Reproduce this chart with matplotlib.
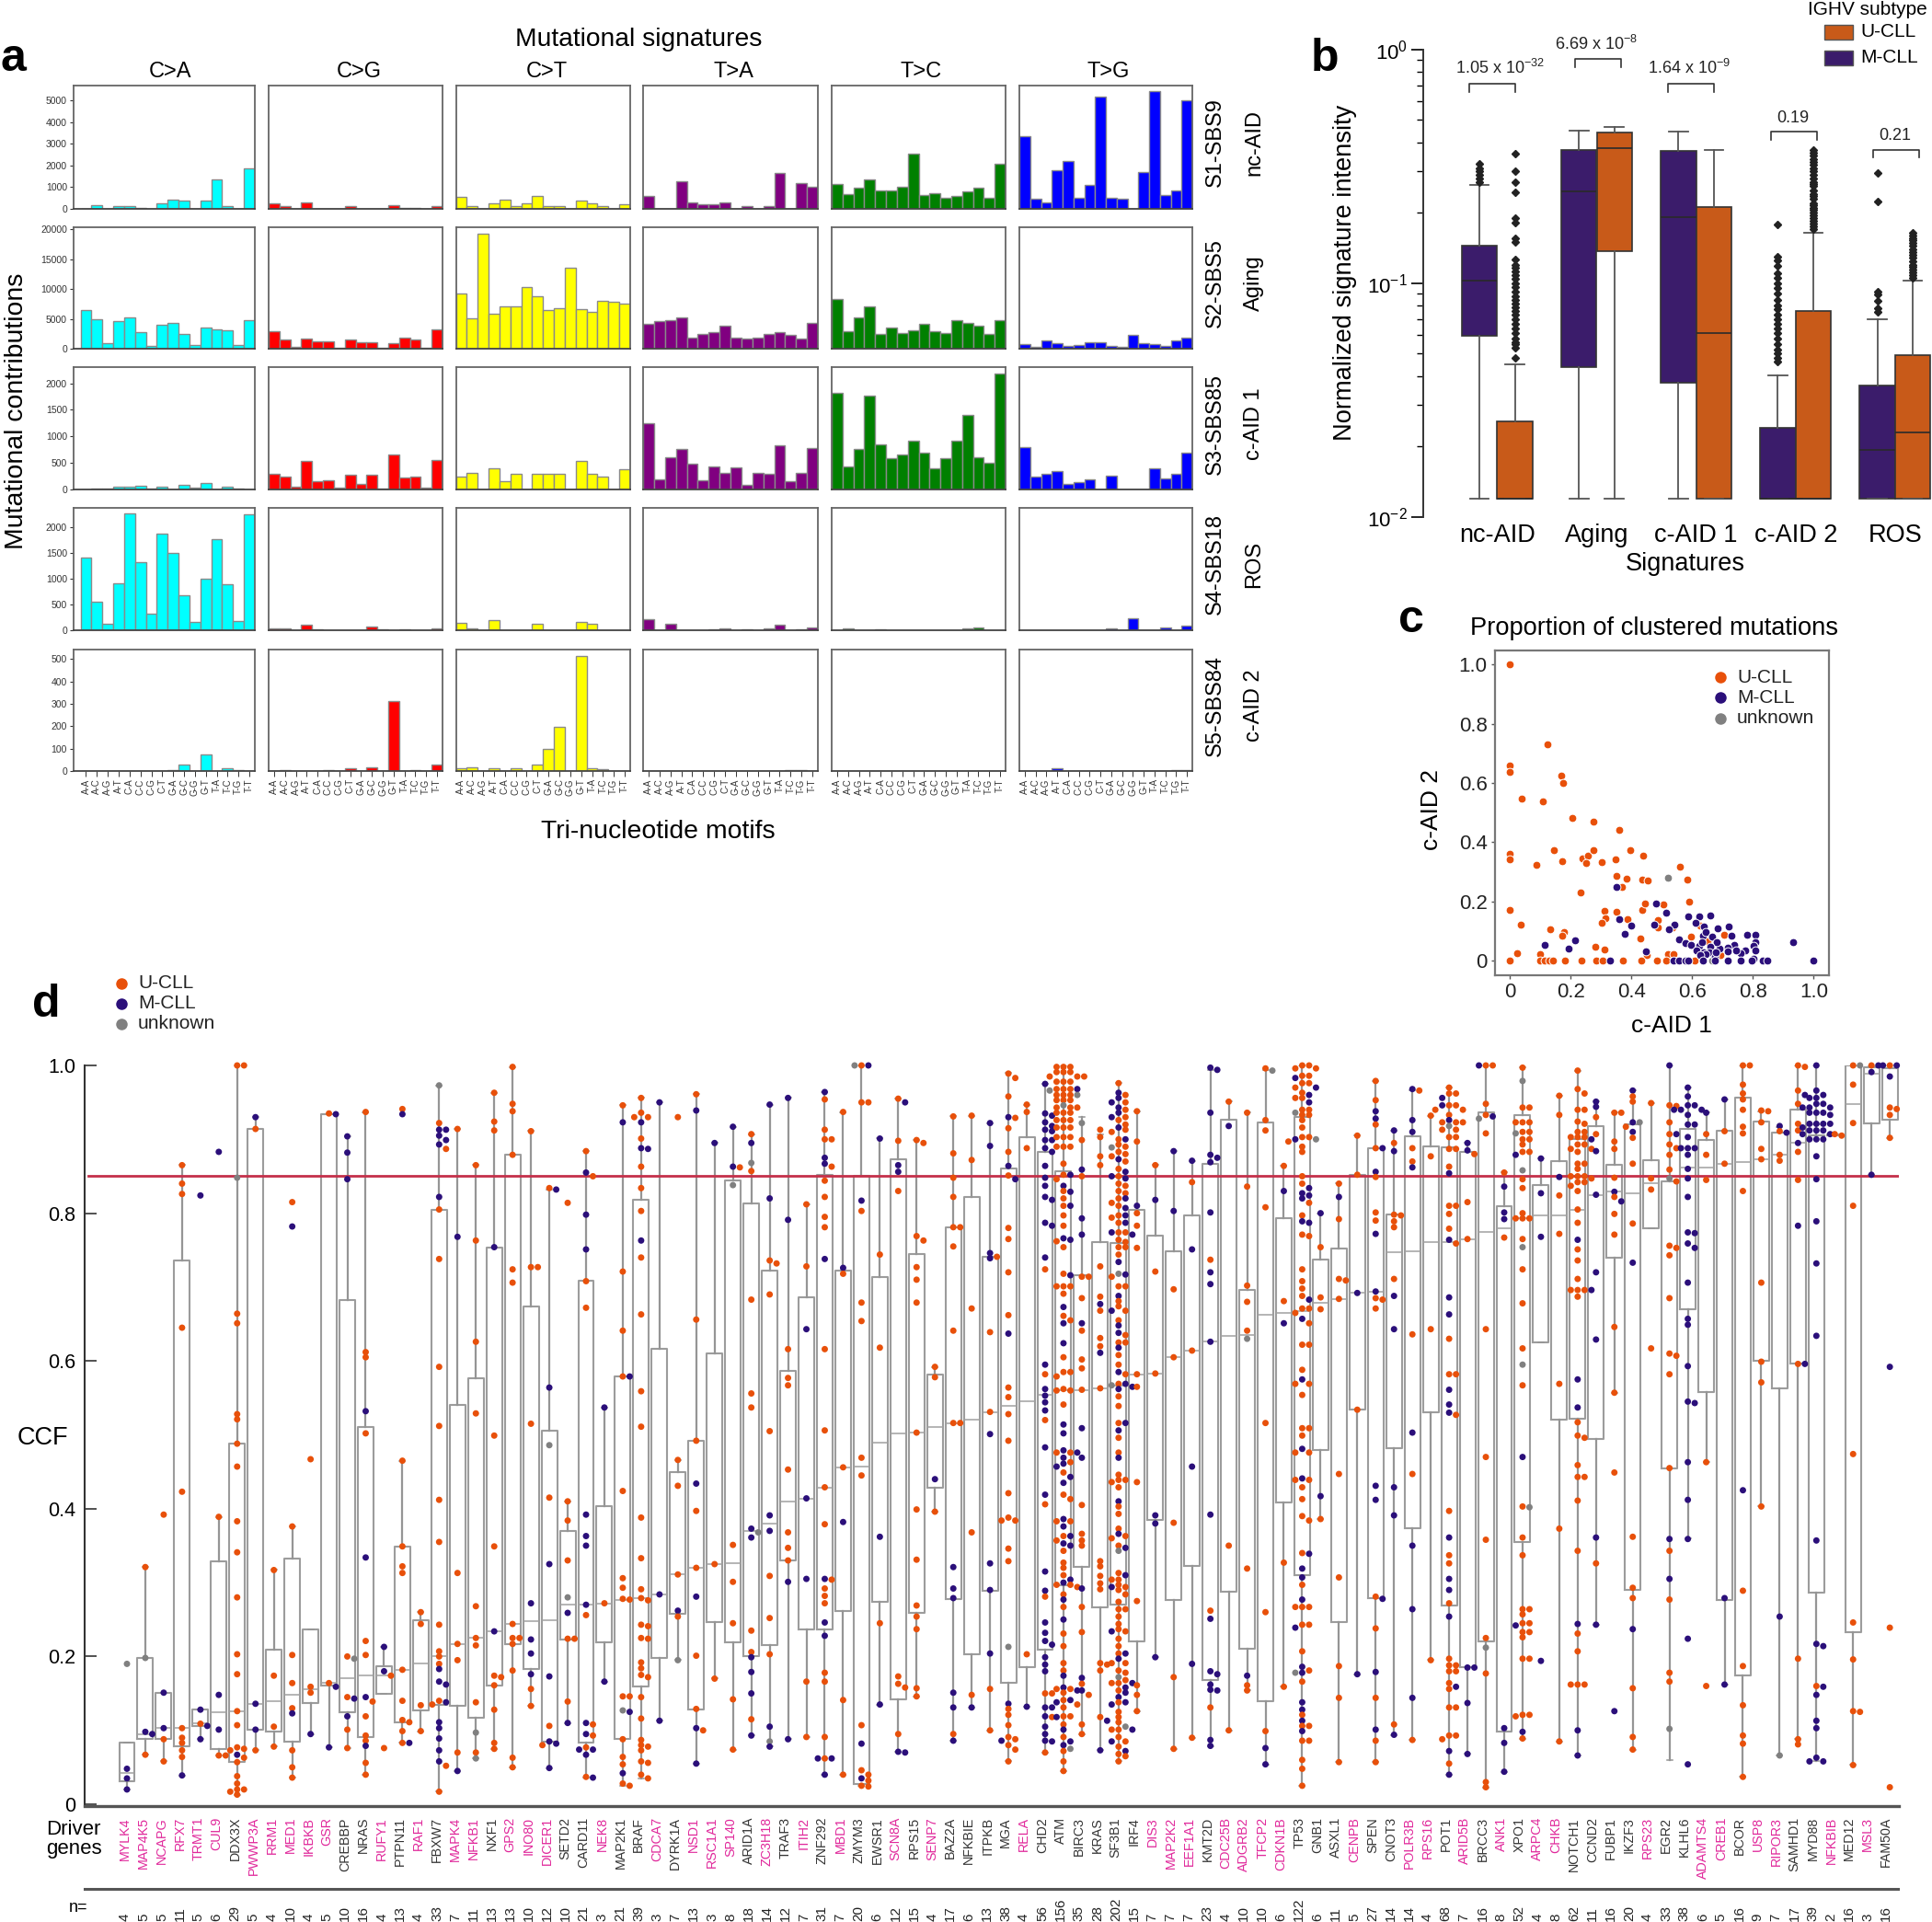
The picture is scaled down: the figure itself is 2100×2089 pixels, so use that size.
import matplotlib
matplotlib.use('Agg')
import matplotlib.pyplot as plt
from matplotlib.lines import Line2D
from matplotlib.patches import Rectangle

plt.rcParams['font.family'] = ['Liberation Sans', 'DejaVu Sans']
plt.rcParams['mathtext.default'] = 'regular'
W, H = 2100, 2089

# ---------------------------------------------------------------- panel a data
SUBST = ['C>A', 'C>G', 'C>T', 'T>A', 'T>C', 'T>G']
SUBST_COL = ['#00FFFF', '#FF0000', '#FFFF00', '#800080', '#008000', '#0000FF']
MOTIFS = ['A-A', 'A-C', 'A-G', 'A-T', 'C-A', 'C-C', 'C-G', 'C-T', 'G-A', 'G-C', 'G-G', 'G-T', 'T-A', 'T-C', 'T-G', 'T-T']
SIG_NAMES = ['S1-SBS9', 'S2-SBS5', 'S3-SBS85', 'S4-SBS18', 'S5-SBS84']
SIG_LABELS = ['nc-AID', 'Aging', 'c-AID 1', 'ROS', 'c-AID 2']
SIG_YMAX = [5700, 20360, 2305, 2382, 542]
SIG_TICKS = [[0, 1000, 2000, 3000, 4000, 5000], [0, 5000, 10000, 15000, 20000], [0, 500, 1000, 1500, 2000],
             [0, 500, 1000, 1500, 2000], [0, 100, 200, 300, 400, 500]]
S1 = [[10, 160, 10, 130, 110, 60, 20, 250, 440, 400, 5, 370, 1370, 130, 10, 1880],
      [240, 110, 10, 300, 5, 5, 5, 110, 5, 5, 5, 170, 60, 30, 5, 110],
      [570, 110, 5, 240, 440, 130, 260, 600, 110, 130, 5, 400, 270, 120, 10, 230],
      [610, 5, 5, 1260, 310, 210, 210, 310, 10, 110, 10, 140, 1680, 5, 1210, 1000],
      [1140, 670, 990, 1360, 860, 860, 1040, 2560, 640, 740, 530, 590, 800, 970, 530, 2090],
      [3370, 470, 290, 1800, 2200, 530, 1110, 5190, 490, 460, 5, 1690, 5430, 630, 860, 5040]]
S2 = [[6550, 4960, 920, 4600, 5270, 2810, 410, 3990, 4300, 2400, 610, 3480, 3220, 3070, 560, 4760],
      [2860, 1530, 260, 1640, 1180, 1180, 150, 1530, 1070, 1070, 150, 970, 1790, 1530, 150, 3170],
      [9200, 5100, 19300, 5900, 7060, 7160, 10400, 8800, 6450, 6800, 13550, 6700, 6140, 8030, 7880, 7570],
      [4200, 4650, 4750, 5170, 1790, 2400, 2810, 3840, 1790, 1640, 1890, 2510, 2810, 2300, 1690, 4350],
      [8290, 2970, 5270, 7110, 2460, 3480, 2560, 3120, 4190, 2920, 2560, 4760, 4300, 3840, 2460, 4760],
      [770, 310, 1380, 970, 410, 560, 1070, 1070, 410, 310, 2250, 920, 770, 510, 1380, 1890]]
S3 = [[5, 15, 15, 50, 50, 70, 10, 60, 5, 95, 30, 115, 5, 55, 10, 5],
      [300, 250, 50, 540, 150, 165, 30, 280, 110, 280, 20, 660, 230, 250, 40, 550],
      [250, 320, 5, 390, 150, 290, 5, 300, 290, 290, 5, 530, 300, 240, 5, 380],
      [1240, 190, 600, 760, 480, 170, 430, 320, 420, 90, 310, 290, 830, 150, 320, 780],
      [1820, 440, 760, 1765, 845, 590, 660, 915, 690, 390, 590, 925, 1400, 615, 500, 2180],
      [790, 250, 300, 345, 105, 145, 195, 5, 265, 5, 5, 5, 390, 210, 290, 700]]
S4 = [[1420, 555, 130, 905, 2280, 1330, 315, 1880, 1510, 675, 160, 1000, 1770, 890, 185, 2250],
      [40, 40, 0, 100, 25, 0, 0, 0, 0, 70, 10, 0, 20, 0, 0, 35],
      [140, 40, 0, 200, 0, 0, 0, 130, 0, 0, 0, 170, 120, 0, 0, 0],
      [210, 0, 130, 0, 0, 0, 10, 35, 0, 25, 0, 35, 110, 0, 10, 55],
      [0, 40, 0, 0, 10, 0, 0, 0, 0, 0, 0, 0, 30, 50, 0, 0],
      [0, 0, 0, 0, 0, 0, 0, 0, 40, 0, 230, 0, 0, 50, 0, 90]]
S5 = [[0, 0, 0, 0, 0, 0, 0, 0, 5, 28, 0, 72, 0, 12, 3, 0],
      [0, 5, 0, 0, 0, 3, 0, 13, 0, 18, 0, 312, 0, 5, 0, 30],
      [14, 18, 0, 14, 0, 12, 0, 30, 98, 197, 0, 515, 14, 8, 0, 0],
      [0, 0, 0, 0, 0, 0, 0, 0, 0, 0, 0, 0, 0, 5, 3, 0],
      [0, 0, 0, 0, 0, 0, 0, 0, 0, 0, 0, 0, 0, 0, 0, 0],
      [0, 0, 0, 12, 0, 0, 0, 0, 0, 0, 0, 0, 0, 0, 3, 3]]
SIGNATURES = [S1, S2, S3, S4, S5]

# ---------------------------------------------------------------- panel b data
B_GROUPS = ['nc-AID', 'Aging', 'c-AID 1', 'c-AID 2', 'ROS']
B_M_Q1 = [.0597, .0436, .0374, .0119, .0119]
B_M_MED = [.102, .246, .191, .0119, .0193]
B_M_Q3 = [.145, .372, .368, .0241, .0363]
B_M_LO = [.0119, .0119, .0119, .0119, .0119]
B_M_HI = [.262, .448, .444, .0402, .07]
B_U_Q1 = [.0119, .137, .0119, .0119, .0119]
B_U_MED = [.0119, .379, .0611, .0119, .0229]
B_U_Q3 = [.0255, .44, .211, .0757, .0493]
B_U_LO = [.0119, .0119, .0119, .0119, .0119]
B_U_HI = [.0448, .466, .37, .164, .102]
B_M_FLIERS = [[.27, .28, .29, .3, .31, .325], [], [],
              [.046, .048, .05, .052, .055, .058, .061, .064, .067, .07, .073, .077, .08, .085, .09, .095, .1, .105, .11, .118, .125, .13, .178],
              [.0755, .078, .0842, .0895, .092, .224, .297]]
B_U_FLIERS = [[.048, .053, .055, .056, .058, .061, .064, .067, .07, .073, .076, .079, .082, .085, .088, .092, .096, .1, .104, .108, .112, .116, .12, .126, .15, .155, .182, .19, .244, .27, .3, .358],
              [], [],
              [.17, .175, .18, .185, .19, .195, .2, .205, .21, .215, .22, .23, .235, .24, .25, .26, .265, .27, .28, .29, .3, .31, .32, .33, .34, .35, .36, .37],
              [.105, .108, .111, .114, .117, .12, .124, .128, .132, .136, .14, .144, .148, .152, .156, .16, .164]]
B_P = ['1.05 x 10$^{-32}$', '6.69 x 10$^{-8}$', '1.64 x 10$^{-9}$', '0.19', '0.21']
B_P_X = [.03, -.008, -.074, -.025, 0]
B_BRACKET = [.714, .908, .714, .445, .372]
B_BRACKET_FOOT = [.66, .836, .66, .41, .345]
B_BRACKET_L = [-.285, -.215, -.281, -.244, -.223]
B_BRACKET_R = [.178, .248, .182, .215, .24]

# ---------------------------------------------------------------- panel c data
C_U_X = [0, 0, 0, .124, .168, .174, .04, .107, .206, .276, .359, 0, 0, .144, .171, .087, .24, .257, .25, .276, .301, .349, .395, .439, .56, .585,
         .351, .384, .435, .453, .368, .232, 0, .036, .133, .179, .173, .311, .351, .314, .301, .386, .435, .443, .504, .59, .486, .488, .536, .597, .429, .704, .626,
         .281, .31, .023, .098, .45, .519, .537, .694, .651,
         0, .1, .115, .13, .142, .181, .235, .285, .304, .373, .433, .484, .513, .607]
C_U_Y = [1.0, .658, .637, .73, .624, .601, .548, .539, .481, .47, .44, .36, .343, .374, .337, .323, .344, .355, .33, .374, .334, .343, .372, .353, .316, .273,
         .287, .277, .275, .27, .25, .231, .17, .12, .105, .096, .085, .168, .165, .142, .128, .139, .171, .194, .188, .199, .136, .113, .111, .082, .073, .087, .119,
         .045, .038, .026, .022, .017, .023, .023, .018, .064,
         0, 0, 0, 0, 0, 0, 0, 0, 0, 0, 0, 0, 0, 0]
C_M_X = [.351, .481, .514, .659, .587, .622, .36, .399, .476, .542, .524, .611, .639, .683, .721, .378, .213, .114, .194, .447, .556, .577, .595, .932, .999,
         .636, .645, .666, .73, .782, .807, .807, .803, .808, .774, .758, .739, .745, .716, .718, .69, .681, .659, .624, .632, .614, .639, .657, .645, .626, .676, .679, .803,
         .33, .537, .557, .578, .586, .636, .676, .718, .76, .795, .833, .848]
C_M_Y = [.249, .192, .162, .153, .15, .15, .141, .117, .122, .121, .106, .126, .114, .108, .116, .091, .067, .053, .04, .03, .07, .058, .054, .063, 0,
         .085, .095, .082, .083, .088, .086, .062, .048, .033, .034, .026, .052, .033, .044, .031, .041, .061, .047, .049, .062, .035, .028, .028, .02, .018, .012, .027, .007,
         0, 0, 0, 0, 0, 0, 0, 0, 0, 0, 0, 0]
C_UNK_X = [.519, .664]
C_UNK_Y = [.28, 0]

# ---------------------------------------------------------------- panel d data
GENES = ['MYLK4', 'MAP4K5', 'NCAPG', 'RFX7', 'TRMT1', 'CUL9', 'DDX3X', 'PWWP3A', 'RRM1', 'MED1', 'IKBKB', 'GSR', 'CREBBP', 'NRAS', 'RUFY1', 'PTPN11',
         'RAF1', 'FBXW7', 'MAPK4', 'NFKB1', 'NXF1', 'GPS2', 'INO80', 'DICER1', 'SETD2', 'CARD11', 'NEK8', 'MAP2K1', 'BRAF', 'CDCA7', 'DYRK1A', 'NSD1',
         'RSC1A1', 'SP140', 'ARID1A', 'ZC3H18', 'TRAF3', 'ITIH2', 'ZNF292', 'MBD1', 'ZMYM3', 'EWSR1', 'SCN8A', 'RPS15', 'SENP7', 'BAZ2A', 'NFKBIE', 'ITPKB',
         'MGA', 'RELA', 'CHD2', 'ATM', 'BIRC3', 'KRAS', 'SF3B1', 'IRF4', 'DIS3', 'MAP2K2', 'EEF1A1', 'KMT2D', 'CDC25B', 'ADGRB2', 'TFCP2', 'CDKN1B',
         'TP53', 'GNB1', 'ASXL1', 'CENPB', 'SPEN', 'CNOT3', 'POLR3B', 'RPS16', 'POT1', 'ARID5B', 'BRCC3', 'ANK1', 'XPO1', 'ARPC4', 'CHKB', 'NOTCH1', 'CCND2',
         'FUBP1', 'IKZF3', 'RPS23', 'EGR2', 'KLHL6', 'ADAMTS4', 'CREB1', 'BCOR', 'USP8', 'RIPOR3', 'SAMHD1', 'MYD88', 'NFKBIB', 'MED12', 'MSL3', 'FAM50A']
GENE_N = [4, 5, 5, 11, 5, 6, 29, 5, 4, 10, 4, 5, 10, 16, 4, 13, 4, 33, 7, 11, 13, 13, 10, 12, 10, 21, 3, 21, 39,
          3, 7, 13, 3, 8, 18, 14, 12, 7, 31, 7, 20, 6, 12, 15, 4, 17, 6, 13, 38, 4, 56, 156, 35, 28, 202, 15, 7, 7, 7, 23, 4, 10, 10, 6,
          122, 6, 11, 5, 27, 14, 14, 4, 68, 7, 16, 8, 52, 4, 8, 62, 11, 16, 20, 4, 33, 38, 6, 5, 16, 9, 7, 17, 39, 2, 16, 3, 16]
PINK_GENES = {'MYLK4', 'MAP4K5', 'NCAPG', 'RFX7', 'TRMT1', 'CUL9', 'PWWP3A', 'RRM1', 'MED1', 'IKBKB', 'GSR', 'RUFY1', 'RAF1', 'MAPK4', 'NFKB1', 'GPS2', 'INO80',
              'DICER1', 'NEK8', 'CDCA7', 'NSD1', 'RSC1A1', 'SP140', 'ZC3H18', 'ITIH2', 'MBD1', 'SCN8A', 'SENP7', 'RELA', 'DIS3', 'MAP2K2', 'EEF1A1', 'CDC25B',
              'ADGRB2', 'TFCP2', 'CDKN1B', 'CENPB', 'POLR3B', 'RPS16', 'ARID5B', 'ANK1', 'ARPC4', 'CHKB', 'RPS23', 'ADAMTS4', 'CREB1', 'USP8', 'RIPOR3', 'NFKBIB', 'MSL3'}
D_Q1 = [.031, .088, .089, .078, .106, .075, .057, .101, .098, .085, .137, .161, .125, .091, .15, .111, .127, .135, .133, .117, .161, .217, .183, .085, .223, .083, .219, .088, .159, .198, .258,
        .128, .247, .219, .201, .215, .33, .236, .237, .261, .028, .274, .142, .259, .429, .278, .203, .289, .164, .185, .209, .297, .321, .266, .27, .221, .385, .276, .323, .168, .288, .211, .14, .408,
        .31, .48, .247, .534, .279, .482, .374, .531, .269, .185, .221, .098, .355, .625, .52, .522, .494, .74, .29, .779, .455, .67, .558, .277, .174, .6, .563, .597, .287, .905, .233, .922, .926]
D_MED = [.042, .095, .103, .103, .109, .125, .126, .136, .14, .148, .156, .164, .171, .174, .174, .182, .19, .2, .217, .225, .234, .244, .248, .249, .27, .27, .272, .277, .279, .284, .311,
         .32, .325, .326, .37, .38, .41, .414, .429, .456, .457, .49, .502, .503, .51, .516, .52, .531, .539, .546, .554, .56, .561, .563, .567, .582, .583, .605, .614, .626, .634, .635, .662, .665,
         .668, .679, .684, .692, .694, .747, .748, .761, .761, .765, .775, .779, .793, .797, .797, .805, .825, .829, .827, .84, .843, .862, .862, .867, .869, .873, .879, .895, .92, .906, .948, .989, .996]
D_Q3 = [.084, .198, .151, .736, .128, .329, .488, .914, .209, .333, .236, .934, .683, .51, .187, .349, .249, .805, .541, .577, .754, .879, .674, .506, .37, .708, .404, .579, .818, .616, .449,
        .492, .61, .844, .813, .722, .586, .686, .852, .722, .85, .713, .873, .745, .582, .781, .822, .741, .86, .903, .883, .857, .716, .761, .76, .805, .769, .749, .797, .867, .926, .696, .923, .793,
        .93, .737, .752, .852, .888, .798, .904, .89, .889, .883, .936, .809, .933, .838, .87, .9, .918, .865, .92, .872, .843, .914, .899, .911, .956, .924, .909, .94, .905, .907, 1.0, .998, .996]
D_LO = [.02, .067, .058, .039, .088, .066, .013, .073, .078, .036, .095, .077, .076, .04, .15, .083, .099, .017, .045, .062, .075, .05, .133, .049, .11, .036, .166, .025, .035, .113, .195,
        .055, .17, .074, .093, .078, .088, .091, .04, .04, .025, .135, .071, .146, .396, .086, .131, .1, .058, .132, .07, .045, .095, .073, .058, .126, .199, .075, .09, .079, .1, .154, .054, .159,
        .025, .386, .057, .176, .057, .094, .087, .195, .04, .068, .023, .044, .089, .625, .085, .066, .243, .557, .074, .779, .06, .36, .463, .162, .037, .403, .066, .088, .058, .905, .053, .852, .902]
D_HI = [.084, .321, .151, .865, .128, .389, 1.0, .93, .317, .376, .236, .934, .904, .937, .213, .465, .26, .973, .914, .865, .963, .998, .911, .832, .41, .884, .537, .946, .956, .95, .466,
        .961, .895, .917, .907, .947, .956, .812, .964, .937, 1.0, .901, .955, .899, .592, .931, .932, .922, .99, .947, .975, 1.0, .93, .907, .976, .938, .865, .884, .871, .994, .951, .936, .994, .864,
        1.0, .8, .84, .905, .979, .912, .966, .932, .97, .895, 1.0, .855, .997, .874, .959, .993, .951, .936, .966, .949, 1.0, .97, .936, .954, 1.0, .938, .917, 1.0, 1.0, .907, 1.0, 1.0, 1.0]

U_CCF = {
 'MAP4K5': [.321, .067], 'NCAPG': [.392, .088, .058],
 'RFX7': [.865, .84, .826, .645, .423, .103, .09, .083, .073, .064],
 'TRMT1': [.109], 'CUL9': [.389, .066, .066],
 'DDX3X': [1.0, 1.0, .664, .651, .528, .521, .488, .457, .383, .341, .28, .203, .176, .126, .107, .077, .075, .073, .063, .057, .038, .028, .02, .02, .017, .013],
 'PWWP3A': [.914, .073], 'RRM1': [.317, .174, .105, .078],
 'MED1': [.815, .376, .202, .164, .13, .073, .05, .036], 'IKBKB': [.467, .159, .151], 'GSR': [.935, .164],
 'CREBBP': [.2, .145, .101, .076],
 'NRAS': [.937, .612, .605, .502, .221, .202, .139, .119, .093, .086, .056, .04],
 'RUFY1': [.174, .076],
 'PTPN11': [.941, .465, .349, .322, .313, .182, .14, .114, .111, .099, .083],
 'RAF1': [.26, .244, .134, .099],
 'FBXW7': [.922, .887, .805, .738, .592, .512, .412, .355, .243, .207, .2, .19, .14, .135, .052, .017],
 'MAPK4': [.914, .313, .217, .195, .07],
 'NFKB1': [.865, .763, .626, .529, .268, .225, .215, .138, .07],
 'NXF1': [.963, .924, .912, .499, .349, .174, .172, .161, .128, .083, .075],
 'GPS2': [.998, .948, .938, .879, .724, .706, .244, .225, .225, .217, .181, .063, .05],
 'INO80': [.911, .727, .727, .515, .156, .133], 'DICER1': [.834, .415, .106, .08],
 'SETD2': [.814, .41, .384, .33, .224, .224, .139],
 'CARD11': [.884, .85, .708, .672, .256, .108, .093, .077, .037],
 'NEK8': [.272],
 'MAP2K1': [.946, .721, .641, .579, .424, .306, .293, .278, .277, .146, .146, .088, .064, .054, .028, .025],
 'BRAF': [.956, .936, .93, .93, .901, .863, .834, .803, .74, .663, .559, .511, .388, .333, .291, .279, .276, .243, .241, .225, .224, .192, .184, .175, .172, .145, .116, .087, .08, .078, .073, .058, .056, .04, .035],
 'DYRK1A': [.93, .466, .431, .311, .254],
 'NSD1': [.961, .656, .492, .397, .32, .201, .129, .1], 'RSC1A1': [.325, .17],
 'SP140': [.862, .351, .301, .245, .142, .074],
 'ARID1A': [.907, .857, .683, .556, .537, .235, .206, .115],
 'ZC3H18': [.736, .732, .69, .505, .309, .252, .203],
 'TRAF3': [.616, .577, .567, .453, .368, .347, .33],
 'ITIH2': [.812, .728, .166, .091],
 'ZNF292': [.954, .913, .9, .9, .863, .844, .822, .795, .781, .616, .506, .429, .379, .304, .292, .282, .272, .178, .166, .091, .062],
 'MBD1': [.937, .718, .456, .141, .04],
 'ZMYM3': [1.0, .95, .95, .803, .679, .654, .469, .445, .107, .046, .04, .032, .025, .024],
 'EWSR1': [.744, .618, .245],
 'SCN8A': [.955, .898, .83, .173, .163, .158, .095],
 'RPS15': [.899, .895, .769, .763, .727, .71, .679, .503, .399, .331, .269, .254, .237, .157, .146],
 'SENP7': [.592, .578, .396],
 'BAZ2A': [.931, .881, .848, .822, .781, .781, .755, .641, .516, .516, .095],
 'NFKBIE': [.932, .872, .671, .368, .148],
 'ITPKB': [.741, .639, .531, .156, .1],
 'MGA': [.989, .983, .958, .929, .915, .883, .851, .78, .765, .72, .662, .564, .551, .528, .492, .421, .384, .384, .388, .346, .329, .129, .121, .107, .091, .088, .08, .074, .058],
 'RELA': [.947, .937, .888, .203],
 'CHD2': [.724, .582, .52, .406, .281, .15, .15, .118, .07],
 'ATM': [.998, .998, .998, .991, .991, .991, .985, .985, .985, .978, .978, .978, .968, .968, .968, .96, .96, .96, .953, .953, .953, .943, .943, .943, .936, .936, .936, .926, .926, .926, .916, .916, .916, .903, .903, .903, .89, .89, .89,
         .867, .852, .846, .83, .82, .81, .797, .783, .762, .754, .718, .701, .701, .701, .691, .661, .655, .605, .585, .585, .579, .562, .56, .56, .541, .476, .476, .463, .449, .419, .413, .383, .383, .363, .357, .343, .327, .32, .31, .297, .297, .294, .284, .267, .231, .214, .191, .181, .156, .156, .151, .141, .135, .131, .119, .119, .108, .091, .072, .058, .045],
 'BIRC3': [.899, .85, .714, .714, .685, .641, .602, .59, .561, .405, .366, .357, .35, .267, .233, .163, .148, .108, .095],
 'KRAS': [.913, .903, .877, .865, .728, .687, .668, .631, .62, .563, .329, .322, .309, .299, .291, .191, .189, .181, .118],
 'SF3B1': [.976, .96, .95, .94, .93, .92, .91, .9, .89, .88, .87, .86, .85, .84, .83, .82, .81, .797, .787, .774, .764, .754, .744, .701, .681, .668, .655, .635, .625, .608, .595, .582, .569, .552, .539, .516, .496, .476, .446, .429, .403, .393, .373, .36, .35, .313, .304, .294, .284, .274, .264, .254, .244, .234, .224, .214, .204, .191, .178, .164, .154, .138, .125, .111, .101, .091, .078, .068, .058,
           .926, .913, .893, .883, .877, .837, .827, .814, .794, .774, .761, .754, .714, .701, .674, .625, .436, .439, .439, .363, .304, .297, .29, .264, .237, .191, .181, .168, .164, .118, .101, .085, .065],
 'IRF4': [.938, .897, .8, .783, .753, .582, .565, .436, .275, .161, .148, .126],
 'DIS3': [.865, .721, .583], 'MAP2K2': [.697, .605, .381, .172, .075],
 'EEF1A1': [.842, .614, .09], 'KMT2D': [.737, .262, .131], 'CDC25B': [.951, .35, .1],
 'ADGRB2': [.936, .836, .702, .68, .641, .319, .161, .154],
 'TFCP2': [.996, .926, .912, .808, .516, .26, .099],
 'CDKN1B': [.864, .681, .327, .159],
 'TP53': [1.0, 1.0, .996, .996, .986, .986, .976, .976, .97, .963, .956, .956, .94, .94, .933, .933, .926, .916, .903, .903, .897, .89, .883, .85, .84, .814, .797, .771, .769, .724, .708, .698, .688, .671, .671, .665, .651, .622, .622, .588, .569, .569, .554, .509, .509, .499, .476, .476, .439, .439, .429, .413, .39, .384, .34, .297, .267, .267, .267, .243, .243, .207, .181, .166, .121, .106, .106, .086, .086, .06, .048, .025],
 'GNB1': [.754, .686, .67, .386],
 'ASXL1': [.84, .792, .711, .709, .684, .447, .307, .187, .144, .057],
 'CENPB': [.905, .852, .534],
 'SPEN': [.979, .953, .92, .888, .849, .801, .79, .685, .683, .671, .281, .238, .144, .086, .057],
 'CNOT3': [.895, .798, .797, .789, .781, .711, .108],
 'POLR3B': [.966, .888, .87, .636, .447, .087],
 'RPS16': [.932, .877, .643, .195],
 'POT1': [.97, .962, .962, .946, .946, .94, .94, .933, .923, .923, .923, .913, .913, .903, .903, .887, .887, .863, .81, .81, .799, .779, .759, .63, .582, .582, .527, .397, .337, .326, .272, .197, .188, .188, .18, .18, .164, .156, .131, .131, .093, .093, .088, .055],
 'ARID5B': [.88, .815, .765],
 'BRCC3': [1.0, 1.0, .948, .933, .908, .643, .47, .358, .225, .177, .03, .023],
 'ANK1': [.855, .767],
 'XPO1': [.997, .943, .943, .923, .923, .923, .91, .91, .9, .9, .893, .883, .883, .846, .834, .8, .793, .793, .793, .765, .724, .678, .617, .567, .403, .361, .337, .264, .264, .257, .245, .245, .233, .233, .226, .197, .197, .121, .121, .119, .089],
 'CHKB': [.959, .933, .824, .772, .569, .373, .085],
 'NOTCH1': [.993, .968, .962, .94, .94, .924, .921, .91, .91, .903, .903, .903, .893, .893, .887, .887, .883, .867, .867, .86, .85, .85, .85, .847, .842, .842, .837, .83, .805, .787, .751, .736, .711, .696, .696, .696, .687, .517, .499, .496, .459, .443, .443, .411, .343, .231, .207, .162, .162, .162],
 'CCND2': [.93, .907, .326],
 'FUBP1': [.936, .936, .897, .887, .848, .822, .799, .771, .646, .557, .449],
 'IKZF3': [.958, .951, .917, .902, .867, .786, .362, .293, .279, .157, .091, .074],
 'RPS23': [.949, .847, .832, .617],
 'EGR2': [.946, .945, .923, .907, .893, .888, .879, .859, .843, .753, .743, .756, .685, .61, .607, .582, .455, .343, .277, .178, .166],
 'ADAMTS4': [.907, .879, .845, .463, .16],
 'CREB1': [.911, .867],
 'BCOR': [1.0, 1.0, .974, .962, .954, .94, .917, .908, .83, .289, .187, .134, .093, .082, .037],
 'USP8': [.939, .938, .923, .887, .873, .706, .599, .571, .403],
 'RIPOR3': [.911, .879, .871],
 'SAMHD1': [1.0, .998, .966, .948, .921, .912, .883, .845, .596, .197, .088, .081],
 'MYD88': [.16], 'NFKBIB': [.907, .905],
 'MED12': [1.0, .974, .922, .81, .474, .246, .196, .126, .125, .053],
 'MSL3': [1.0],
 'FAM50A': [1.0, .941, .943, .933, .902, .239, .023],
}
M_CCF = {
 'MYLK4': [.048, .035, .02], 'MAP4K5': [.098, .095], 'NCAPG': [.151, .103], 'RFX7': [.039],
 'TRMT1': [.824, .128, .106, .088], 'CUL9': [.883, .148, .101], 'DDX3X': [.067], 'PWWP3A': [.93, .136, .101],
 'MED1': [.782, .123], 'IKBKB': [.095], 'GSR': [.934, .159, .077], 'CREBBP': [.904, .882, .846, .143, .119],
 'NRAS': [.532, .334, .145, .079], 'RUFY1': [.213, .18], 'PTPN11': [.934, .083],
 'FBXW7': [.913, .913, .905, .899, .893, .822, .183, .166, .162, .138, .111, .103, .089, .073, .058],
 'MAPK4': [.768, .045], 'NXF1': [.754, .234], 'INO80': [.272, .223, .204, .176],
 'DICER1': [.832, .564, .325, .173, .082, .085, .049], 'SETD2': [.259, .11],
 'CARD11': [.855, .798, .751, .392, .363, .35, .27, .11, .095, .074, .074, .067, .036],
 'NEK8': [.537, .166], 'MAP2K1': [.923, .579, .125, .042], 'BRAF': [.923, .888, .887, .763],
 'CDCA7': [.95, .284, .113], 'DYRK1A': [.262],
 'NSD1': [.939, .434, .281, .103, .055], 'RSC1A1': [.895], 'SP140': [.917, .863],
 'ARID1A': [.895, .361, .373, .199, .179, .15, .093], 'ZC3H18': [.947, .82, .391, .37, .105, .078],
 'TRAF3': [.956, .791, .301, .088], 'ITIH2': [.643, .414, .305],
 'ZNF292': [.964, .875, .867, .738, .305, .246, .228, .062, .062, .04], 'MBD1': [.726, .382],
 'ZMYM3': [1.0, .817, .082, .035], 'EWSR1': [.901, .362, .135], 'SCN8A': [.95, .865, .856, .07, .071],
 'SENP7': [.44], 'BAZ2A': [.321, .292, .279, .151, .131, .086], 'NFKBIE': [.131],
 'ITPKB': [.922, .891, .739, .746, .501, .326, .29, .204], 'MGA': [.93, .864, .846, .637, .136, .086],
 'RELA': [.132],
 'CHD2': [.975, .935, .932, .923, .918, .911, .913, .899, .899, .888, .883, .864, .848, .837, .818, .822, .787, .783, .74, .595, .562, .553, .544, .533, .483, .419, .315, .289, .246, .232, .221, .216, .199, .189, .18, .131, .119, .131, .105, .095, .086, .085],
 'ATM': [.968, .852, .837, .829, .81, .766, .764, .716, .673, .651, .624, .514, .502, .479, .476, .469, .461, .457, .443, .435, .386, .376, .363, .353, .35, .304, .3, .277, .25, .174, .158, .154, .141, .138, .118, .101, .085, .08],
 'BIRC3': [.859, .793, .771, .651, .509, .469, .292, .171, .154],
 'KRAS': [.677, .611, .113, .073],
 'SF3B1': [.963, .956, .95, .943, .936, .93, .916, .9, .873, .856, .85, .847, .82, .807, .797, .787, .774, .771, .734, .717, .688, .668, .648, .638, .618, .585, .569, .565, .562, .516, .506, .469, .41, .366, .347, .31, .294, .234, .204, .197, .164, .158, .151, .145, .138, .135, .101, .085, .072],
 'IRF4': [.81], 'DIS3': [.818, .391, .38, .199], 'MAP2K2': [.884, .803], 'EEF1A1': [.871, .751, .457, .19],
 'KMT2D': [.997, .994, .936, .879, .875, .869, .801, .72, .704, .626, .392, .251, .18, .176, .155, .154, .162, .087, .079],
 'CDC25B': [.918], 'ADGRB2': [.174], 'TFCP2': [.076, .054], 'CDKN1B': [.83, .651],
 'TP53': [.983, .97, .96, .95, .9, .834, .827, .824, .82, .789, .787, .683, .657, .575, .481, .441, .339, .319, .307, .277, .239, .186, .178, .138, .128, .113, .099],
 'GNB1': [.8, .417], 'ASXL1': [.822], 'CENPB': [.692, .176],
 'SPEN': [.938, .928, .888, .856, .772, .694, .431, .412, .278, .179, .101],
 'CNOT3': [.912, .884, .688, .643, .429, .391, .094],
 'POLR3B': [.968, .926, .91, .862, .503, .35, .264, .144],
 'POT1': [.956, .946, .926, .854, .764, .686, .663, .561, .541, .53, .361, .305, .29, .254, .159, .072, .04],
 'ARID5B': [.895, .885, .185, .185, .137, .068], 'BRCC3': [1.0, .931],
 'ANK1': [.836, .801, .792, .103, .083, .044], 'XPO1': [.879, .47, .242, .098],
 'ARPC4': [.874, .827, .768, .194], 'CHKB': [.849],
 'NOTCH1': [.9, .764, .696, .575, .537, .244, .1, .066],
 'CCND2': [.951, .944, .884, .825, .72, .629, .361, .243], 'FUBP1': [.829, .816, .126],
 'IKZF3': [.966, .923, .91, .733, .237], 'EGR2': [1.0, .907, .359, .305],
 'KLHL6': [.97, .958, .946, .946, .94, .94, .94, .933, .92, .92, .903, .888, .888, .888, .879, .86, .847, .822, .774, .773, .759, .753, .706, .657, .649, .593, .545, .543, .463, .412, .359, .224, .054],
 'ADAMTS4': [.936], 'CREB1': [.954, .279, .162], 'BCOR': [.425], 'RIPOR3': [.918, .909, .254],
 'SAMHD1': [.96, .895, .783, .596],
 'MYD88': [1.0, .966, .96, .956, .956, .948, .948, .943, .943, .943, .936, .936, .936, .933, .921, .921, .921, .921, .916, .912, .912, .912, .907, .907, .9, .9, .9, .877, .846, .789, .732, .634, .357, .217, .214, .159, .148, .113, .103, .063, .058, .058],
 'MSL3': [1.0, .991, .852], 'FAM50A': [1.0, 1.0, .985, .592],
}
UNK_CCF = {
 'MYLK4': [.19], 'MAP4K5': [.198], 'DDX3X': [.848], 'CREBBP': [.197], 'FBXW7': [.973], 'NFKB1': [.097, .062], 'DICER1': [.486], 'SETD2': [.28],
 'MAP2K1': [.127], 'DYRK1A': [.195], 'SP140': [.838], 'ARID1A': [.868, .368], 'ZC3H18': [.085], 'ZMYM3': [1.0], 'MGA': [.213],
 'ATM': [.966, .96, .946, .075], 'BIRC3': [.922], 'SF3B1': [.718, .889, .567, .343, .172, .105], 'ADGRB2': [.63], 'TFCP2': [.993],
 'TP53': [.936, .9, .178], 'POT1': [.918], 'BRCC3': [.928, .212], 'XPO1': [.979, .908, .858, .754, .595, .402], 'IKZF3': [.923], 'RIPOR3': [.066],
 'EGR2': [.847, .102], 'MED12': [1.0],
}
CCF_LINE = .851
COL_U, COL_M, COL_UNK = '#E8500A', '#2B0F7A', '#808080'

# ---------------------------------------------------------------- helpers
fig = plt.figure(figsize=(W / 100, H / 100), dpi=100)

def ax_px(left, top, right, bottom):
    return fig.add_axes([left / W, 1 - bottom / H, (right - left) / W, (bottom - top) / H])

def txt(x, y, s, **kw):
    kw.setdefault('ha', 'center')
    kw.setdefault('va', 'center')
    return fig.text(x / W, 1 - y / H, s, **kw)

def dot_legend(x_marker, ys, x_text, labels, colors, ms, fs):
    for y, lab, c in zip(ys, labels, colors):
        fig.add_artist(Line2D([x_marker / W], [1 - y / H], marker='o', ms=ms, color=c, ls='none', mec='none', transform=fig.transFigure))
        txt(x_text, y, lab, ha='left', fontsize=fs, color='#222222')

for x, y, s in [(0, 77, 'a'), (1425, 77, 'b'), (1520, 687, 'c'), (35, 1105, 'd')]:
    txt(x, y, s, ha='left', va='baseline', fontsize=36, fontweight='bold')

# ---------------------------------------------------------------- panel a
COL_X = [(80, 277), (292, 481), (495.5, 685), (699, 889), (904, 1093), (1108, 1296)]
ROW_Y = [(93, 227), (247, 379), (399, 532), (552, 685), (706, 838)]
TITLE_X = [185, 390, 594, 797, 1001, 1205]
for r, sig in enumerate(SIGNATURES):
    for c, vals in enumerate(sig):
        ax = ax_px(COL_X[c][0], ROW_Y[r][0], COL_X[c][1], ROW_Y[r][1])
        ax.bar(range(16), vals, width=1.0, color=SUBST_COL[c], edgecolor='#8a8a8a', linewidth=1.0)
        ax.set_xlim(-1.14 if c == 0 else -0.5, 15.5)
        ax.set_ylim(0, SIG_YMAX[r])
        for sp in ax.spines.values():
            sp.set_color('#666666')
            sp.set_linewidth(1.3)
        ax.spines['bottom'].set_color('#444444')
        if c == 0:
            ax.set_yticks(SIG_TICKS[r])
            ax.tick_params(axis='y', labelsize=7.5, length=3, width=0.8, pad=2, colors='#333333')
        else:
            ax.set_yticks([])
        if r == 4:
            ax.set_xticks(range(16))
            ax.set_xticklabels(MOTIFS, rotation=90, fontsize=7)
            ax.tick_params(axis='x', length=4, width=0.7, pad=2, colors='#333333')
        else:
            ax.set_xticks([])
    yc = (ROW_Y[r][0] + ROW_Y[r][1]) / 2
    txt(1321, yc - 5, SIG_NAMES[r], rotation=90, fontsize=17)
    txt(1363, yc - 5, SIG_LABELS[r], rotation=90, fontsize=17)
for x, s in zip(TITLE_X, SUBST):
    txt(x, 78, s, fontsize=17)
txt(694, 43, 'Mutational signatures', fontsize=20.3)
txt(715, 904, 'Tri-nucleotide motifs', fontsize=20.4)
txt(18, 447, 'Mutational contributions', rotation=90, fontsize=20.4)

# ---------------------------------------------------------------- panel b
ax = ax_px(1547, 53.7, 2100, 561.6)
ax.set_yscale('log')
ax.set_ylim(0.01, 1)
ax.set_xlim(-0.744, 4.372)
offs = 0.178
for i in range(len(B_GROUPS)):
    for sgn, col, q1, med, q3, lo, hi, fl in (
        (-1, '#3B1C6B', B_M_Q1, B_M_MED, B_M_Q3, B_M_LO, B_M_HI, B_M_FLIERS),
        (1, '#C85A19', B_U_Q1, B_U_MED, B_U_Q3, B_U_LO, B_U_HI, B_U_FLIERS)):
        st = dict(q1=q1[i], med=med[i], q3=q3[i], whislo=lo[i], whishi=hi[i], fliers=fl[i])
        ax.bxp([st], positions=[i + sgn * offs], widths=0.355, patch_artist=True, manage_ticks=False, capwidths=0.19,
               boxprops=dict(facecolor=col, edgecolor='#333333', linewidth=1.2),
               medianprops=dict(color='#2a2a2a', linewidth=1.2),
               whiskerprops=dict(color='#555555', linewidth=1.3), capprops=dict(color='#555555', linewidth=1.3),
               flierprops=dict(marker='D', markersize=4.2, markerfacecolor='#222222', markeredgecolor='#222222'))
    xl, xr = i + B_BRACKET_L[i], i + B_BRACKET_R[i]
    ax.plot([xl, xl, xr, xr], [B_BRACKET_FOOT[i], B_BRACKET[i], B_BRACKET[i], B_BRACKET_FOOT[i]], color='#333333', lw=1.2, clip_on=False)
    ax.text(i + B_P_X[i], B_BRACKET[i] * 1.06, B_P[i], ha='center', va='bottom', fontsize=13, color='#222222', clip_on=False)
ax.set_xticks(range(5))
ax.set_xticklabels(B_GROUPS, fontsize=19.5)
ax.tick_params(axis='x', length=0, pad=5)
ax.tick_params(axis='y', which='major', length=9.5, width=1.2, labelsize=16, pad=3)
ax.tick_params(axis='y', which='minor', length=5, width=1.0)
for s in ['top', 'right', 'bottom']:
    ax.spines[s].set_visible(False)
ax.spines['left'].set_linewidth(1.4)
ax.spines['left'].set_color('#333333')
ax.patch.set_alpha(0)
txt(1462, 296, 'Normalized signature intensity', rotation=90, fontsize=19.6)
txt(1832, 613, 'Signatures', fontsize=19.5)
txt(2095, 11, 'IGHV subtype', ha='right', fontsize=15)
for y0, col, lab in [(27, '#C85A19', 'U-CLL'), (55, '#3B1C6B', 'M-CLL')]:
    fig.add_artist(Rectangle((1983 / W, 1 - (y0 + 16) / H), 31 / W, 16 / H, facecolor=col, edgecolor='#555555', linewidth=1, transform=fig.transFigure))
    txt(2022, y0 + 8, lab, ha='left', fontsize=15)

# ---------------------------------------------------------------- panel c
ax = ax_px(1625, 707, 1988, 1060)
ax.set_xlim(-0.049, 1.05)
ax.set_ylim(-0.05, 1.048)
ax.scatter(C_U_X, C_U_Y, s=40, color=COL_U, edgecolor='white', linewidth=0.7, zorder=3)
ax.scatter(C_UNK_X, C_UNK_Y, s=40, color=COL_UNK, edgecolor='white', linewidth=0.7, zorder=3)
ax.scatter(C_M_X, C_M_Y, s=40, color=COL_M, edgecolor='white', linewidth=0.7, zorder=4)
ax.set_xticks([0, .2, .4, .6, .8, 1.0])
ax.set_xticklabels(['0', '0.2', '0.4', '0.6', '0.8', '1.0'])
ax.set_yticks([0, .2, .4, .6, .8, 1.0])
ax.set_yticklabels(['0', '0.2', '0.4', '0.6', '0.8', '1.0'])
ax.tick_params(labelsize=16, length=3, width=1, color='#555555', labelcolor='#222222', pad=3)
for sp in ax.spines.values():
    sp.set_color('#777777')
    sp.set_linewidth(1.6)
txt(1798, 683, 'Proportion of clustered mutations', fontsize=19.6)
txt(1556, 880, 'c-AID 2', rotation=90, fontsize=19)
txt(1817, 1115, 'c-AID 1', fontsize=19)
dot_legend(1870, [736, 758, 781], 1888, ['U-CLL', 'M-CLL', 'unknown'], [COL_U, COL_M, COL_UNK], 9, 15)

# ---------------------------------------------------------------- panel d
X0, DX, PXY = 138, 19.96, 803
ax = ax_px(92, 1158, 2064, 1963)
ax.set_xlim((92 - X0) / DX, (2064 - X0) / DX)
ax.set_ylim((1961 - 1963) / PXY, 1.0)
stats = [dict(q1=a, med=b, q3=c, whislo=d, whishi=e, fliers=[]) for a, b, c, d, e in zip(D_Q1, D_MED, D_Q3, D_LO, D_HI)]
ax.bxp(stats, positions=list(range(len(GENES))), widths=0.85, manage_ticks=False, showfliers=False, capwidths=0.3,
       boxprops=dict(color='#9c9c9c', linewidth=1.5), medianprops=dict(color='#a0a0a0', linewidth=1.1),
       whiskerprops=dict(color='#959595', linewidth=1.6), capprops=dict(color='#959595', linewidth=1.1))
ax.plot([(96 - X0) / DX, (2064 - X0) / DX], [CCF_LINE, CCF_LINE], color='#C4304A', lw=2, zorder=2.5)

def swarm(points, dist=5.6, step=7.5):
    placed = []
    for v, col in sorted(points, key=lambda p: -p[0]):
        for k in (0, 1, -1, 2, -2, 3, -3, 4, -4, 5, -5):
            dx = k * step
            if all((dx - pdx) ** 2 + ((v - pv) * PXY) ** 2 >= dist ** 2 for pdx, pv, _ in placed):
                break
        placed.append((dx, v, col))
    return placed

xs, ys, cs = [], [], []
for i, g in enumerate(GENES):
    pts = [(v, COL_U) for v in U_CCF.get(g, [])] + [(v, COL_M) for v in M_CCF.get(g, [])] + [(v, COL_UNK) for v in UNK_CCF.get(g, [])]
    for dx, v, col in swarm(pts):
        xs.append(i + dx / DX)
        ys.append(v)
        cs.append(col)
ax.scatter(xs, ys, s=25, c=cs, linewidths=0, zorder=4, clip_on=False)
ax.set_yticks([0, .2, .4, .6, .8, 1.0])
ax.set_yticklabels(['0', '0.2', '0.4', '0.6', '0.8', '1.0'])
ax.tick_params(axis='y', direction='in', length=9, width=1.2, labelsize=15.5, pad=7, color='#333333')
ax.set_xticks([])
for s in ['top', 'right']:
    ax.spines[s].set_visible(False)
ax.spines['left'].set_color('#333333')
ax.spines['left'].set_linewidth(1.5)
ax.spines['bottom'].set_color('#555555')
ax.spines['bottom'].set_linewidth(2.4)
fig.add_artist(Line2D([92 / W, 2063 / W], [1 - 2053 / H, 1 - 2053 / H], color='#555555', lw=2.2, transform=fig.transFigure))
for i, (g, n) in enumerate(zip(GENES, GENE_N)):
    xl = 136 + 19.94 * i
    txt(xl, 1975, g, rotation=90, va='top', fontsize=10.3, color='#E0289B' if g in PINK_GENES else '#333333')
    txt(xl, 2088, str(n), rotation=90, va='bottom', fontsize=11, color='#222222')
txt(80, 1988, 'Driver', fontsize=16)
txt(80, 2010, 'genes', fontsize=16)
txt(85, 2073, 'n=', fontsize=13)
txt(46, 1563, 'CCF', fontsize=19.5)
dot_legend(132, [1069, 1091, 1113], 150, ['U-CLL', 'M-CLL', 'unknown'], [COL_U, COL_M, COL_UNK], 9, 15)

fig.savefig('out.png', dpi=100)
